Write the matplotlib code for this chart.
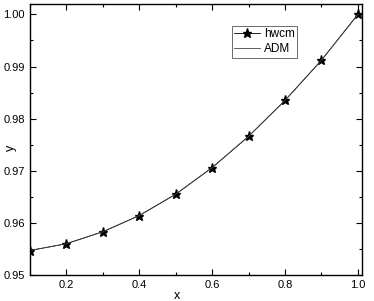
import numpy as np
import matplotlib.pyplot as plt
from matplotlib.ticker import MultipleLocator

plt.rcParams['font.family'] = ['Liberation Sans', 'DejaVu Sans']

x = [0.1, 0.2, 0.3, 0.4, 0.5, 0.6, 0.7, 0.8, 0.9, 1.0]
y_hwcm = [0.9547, 0.9560, 0.9583, 0.9614, 0.9655, 0.9706, 0.9766, 0.9835, 0.9912, 1.0000]
y_adm = [0.9547, 0.9560, 0.9583, 0.9614, 0.9655, 0.9706, 0.9766, 0.9835, 0.9912, 1.0000]

fig = plt.figure(figsize=(3.74, 3.01), dpi=100)
ax = fig.add_axes([0.080, 0.0864, 0.8866, 0.9003])

ax.plot(x, y_hwcm, color='black', linewidth=0.6, marker='*', markersize=6.5, label='hwcm')
ax.plot(x, y_adm, color='#444444', linewidth=0.6, label='ADM')

ax.set_xlim(0.1, 1.01)
ax.set_ylim(0.95, 1.002)
ax.xaxis.set_major_locator(MultipleLocator(0.2))
ax.xaxis.set_minor_locator(MultipleLocator(0.1))
ax.yaxis.set_major_locator(MultipleLocator(0.01))
ax.yaxis.set_minor_locator(MultipleLocator(0.005))
ax.xaxis.set_major_formatter(plt.FormatStrFormatter('%.1f'))
ax.yaxis.set_major_formatter(plt.FormatStrFormatter('%.2f'))
ax.tick_params(which='both', direction='in', top=True, right=True, labelsize=8, width=0.8)
ax.tick_params(which='major', length=4)
ax.tick_params(which='minor', length=2.5)
for s in ax.spines.values():
    s.set_linewidth(1.0)

ax.set_xlabel('x', fontsize=9)
ax.set_ylabel('y', fontsize=9)
ax.xaxis.set_label_coords(0.443, -0.056)
ax.yaxis.set_label_coords(-0.039, 0.47)

leg = ax.legend(loc='upper left', bbox_to_anchor=(0.609, 0.919), fontsize=8.5,
                fancybox=False, edgecolor='#555555', framealpha=1,
                handlelength=2.2, handletextpad=0.3, borderpad=0.2, labelspacing=0.25,
                borderaxespad=0)
leg.get_frame().set_linewidth(0.6)

plt.savefig('out.png', dpi=100)
